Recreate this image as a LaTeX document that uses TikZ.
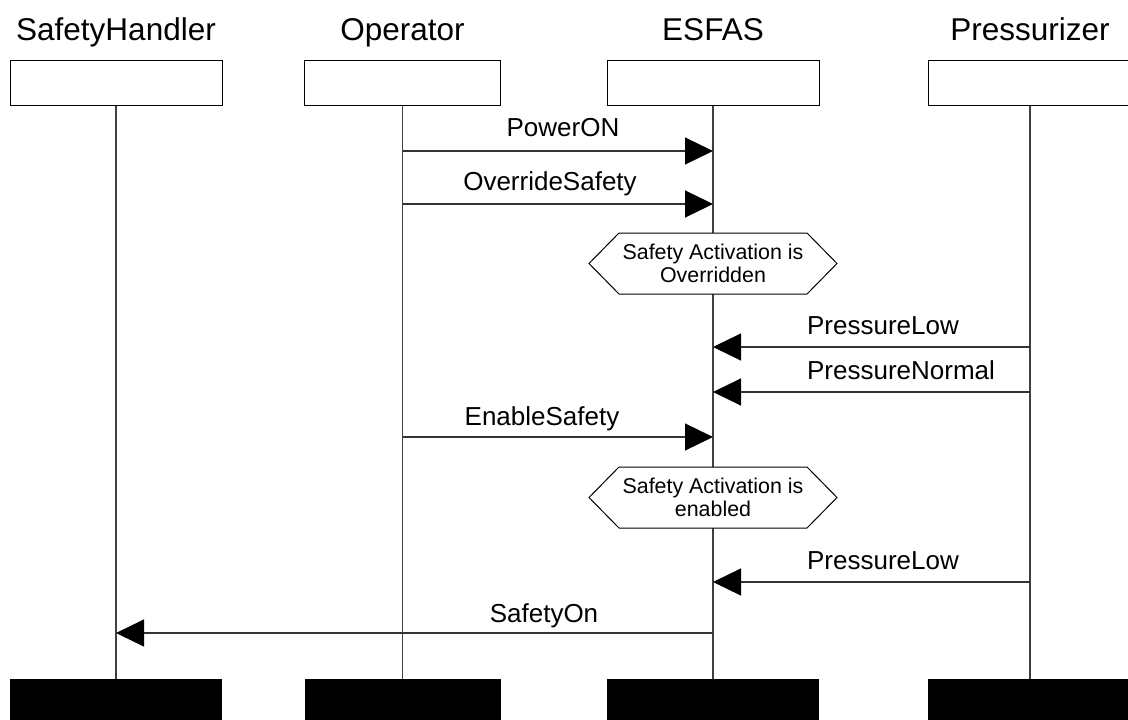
\documentclass[tikz,border=0pt]{standalone}
\usepackage{fontspec}
\setmainfont{Liberation Sans}
\usetikzlibrary{arrows.meta,shapes.symbols}

\begin{document}
\begin{tikzpicture}[x=1pt,y=-1pt,
  headbox/.style={draw=black,fill=white,line width=1pt,minimum height=45pt,inner sep=0pt},
  footbox/.style={fill=black,minimum height=42pt,inner sep=0pt},
  title/.style={font=\fontsize{31.5}{36}\selectfont,anchor=base,inner sep=0pt},
  lifeline/.style={draw=black!75,line width=1.3pt},
  msg/.style={draw=black!80,line width=1.2pt,-{Triangle[length=28pt,width=27pt,black]}},
  lbl/.style={font=\fontsize{26}{30}\selectfont,anchor=base,inner sep=0pt},
  note/.style={signal,signal to=east and west,signal pointer angle=91,
    draw=black,fill=white,line width=1pt,minimum width=248pt,minimum height=61pt,
    inner sep=0pt,align=center,font=\fontsize{21.4}{23.5}\selectfont}
]
\useasboundingbox[fill=white] (0,0) rectangle (1128,720);

% instance heads
\node[headbox,minimum width=212pt] (sh) at (116,82.5) {};
\node[headbox,minimum width=196pt] (op) at (402.5,82.5) {};
\node[headbox,minimum width=212pt] (es) at (713,82.5) {};
\node[headbox,minimum width=204pt] (pr) at (1030,82.5) {};

% instance names
\node[title] (shT) at (116,40) {SafetyHandler};
\node[title] (opT) at (402.5,40) {Operator};
\node[title] (esT) at (713,40) {ESFAS};
\node[title] (prT) at (1030,40) {Pressurizer};

% instance ends
\node[footbox,minimum width=212pt] (shF) at (116,700) {};
\node[footbox,minimum width=196pt] (opF) at (402.5,700) {};
\node[footbox,minimum width=212pt] (esF) at (713,700) {};
\node[footbox,minimum width=204pt] (prF) at (1030,700) {};

% lifelines
\draw[lifeline] (sh.south) -- (shF.north);
\draw[lifeline] (op.south) -- (opF.north);
\draw[lifeline] (es.south) -- (esF.north);
\draw[lifeline] (pr.south) -- (prF.north);

% conditions
\node[note] (c1) at (713,263.5) {Safety Activation is\\Overridden};
\node[note] (c2) at (713,497.5) {Safety Activation is\\enabled};

% messages
\draw[msg] (op |- 0,151) -- (es |- 0,151);
\node[lbl] (l1) at (563,136) {PowerON};

\draw[msg] (op |- 0,204) -- (es |- 0,204);
\node[lbl] (l2) at (550,190) {OverrideSafety};

\draw[msg] (pr |- 0,347) -- (es |- 0,347);
\node[lbl] (l3) at (883,334) {PressureLow};

\draw[msg] (pr |- 0,392) -- (es |- 0,392);
\node[lbl] (l4) at (901,379) {PressureNormal};

\draw[msg] (op |- 0,437) -- (es |- 0,437);
\node[lbl] (l5) at (542,425) {EnableSafety};

\draw[msg] (pr |- 0,582) -- (es |- 0,582);
\node[lbl] (l6) at (883,569) {PressureLow};

\draw[msg] (es |- 0,633) -- (sh |- 0,633);
\node[lbl] (l7) at (544,622) {SafetyOn};
\end{tikzpicture}
\end{document}
